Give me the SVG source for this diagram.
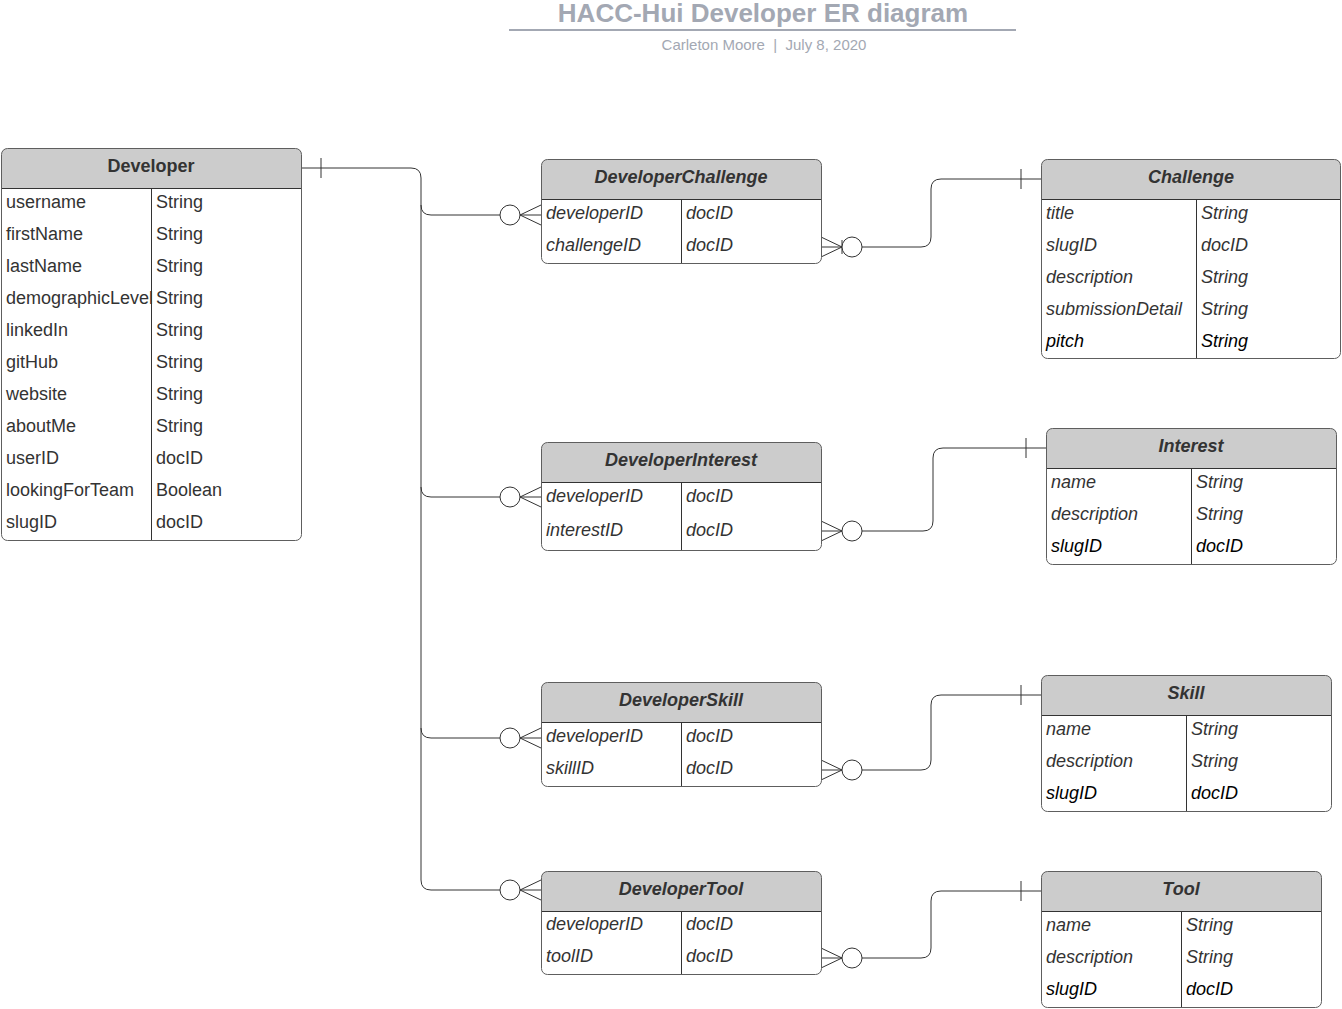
<svg xmlns="http://www.w3.org/2000/svg" width="1342" height="1009" viewBox="0 0 1342 1009">
<style>
text{font-family:"Liberation Sans",Arial,sans-serif;}
.title{font-size:26px;font-weight:bold;fill:#a3a8b3;text-anchor:middle;}
.sub{font-size:15px;fill:#a3a8b3;text-anchor:middle;}
.body{fill:#fff;stroke:none;}
.hdr{fill:#cccccc;stroke:none;}
.frame{fill:none;stroke:#5e5e5e;stroke-width:1;}
.sep{stroke:#333;stroke-width:1;}
.h{font-size:18px;font-weight:bold;fill:#333;text-anchor:middle;}
.hi{font-size:18px;font-weight:bold;font-style:italic;fill:#333;text-anchor:middle;}
.t{font-size:18px;fill:#333;}
.ti{font-size:18px;font-style:italic;fill:#333;}
.tk{font-size:18px;font-style:italic;fill:#000;}
.c{fill:none;stroke:#333;stroke-width:1;}
.o{fill:#fff;stroke:#333;stroke-width:1;}
</style>
<g id="title">
<text class="title" x="763" y="22">HACC-Hui Developer ER diagram</text>
<line x1="509" y1="30" x2="1016" y2="30" stroke="#a3a8b3" stroke-width="2"/>
<text class="sub" x="764" y="50" xml:space="preserve">Carleton Moore  |  July 8, 2020</text>
</g>
<g id="connectors">
<path class="c" d="M301,168 H411 Q421,168 421,178 V880 Q421,890 431,890 H500"/>
<path class="c" d="M321,158 V178"/>
<path class="c" d="M421,205 Q421,215 431,215 H500"/>
<path class="c" d="M421,487 Q421,497 431,497 H500"/>
<path class="c" d="M421,728 Q421,738 431,738 H500"/>
<path class="c" d="M541,205 L520,215 L541,225 M520,215 H541"/>
<path class="c" d="M541,487 L520,497 L541,507 M520,497 H541"/>
<path class="c" d="M541,728 L520,738 L541,748 M520,738 H541"/>
<path class="c" d="M541,880 L520,890 L541,900 M520,890 H541"/>
<circle class="o" cx="510" cy="215" r="10"/>
<circle class="o" cx="510" cy="497" r="10"/>
<circle class="o" cx="510" cy="738" r="10"/>
<circle class="o" cx="510" cy="890" r="10"/>
<path class="c" d="M821,237 L842,247 L821,257 M821,247 H842 M842,240 V254"/>
<circle class="o" cx="852" cy="247" r="10"/>
<path class="c" d="M862,247 H921 Q931,247 931,237 V189 Q931,179 941,179 H1041 M1021,169 V189"/>
<path class="c" d="M821,521 L842,531 L821,541 M821,531 H842"/>
<circle class="o" cx="852" cy="531" r="10"/>
<path class="c" d="M862,531 H923 Q933,531 933,521 V458 Q933,448 943,448 H1046 M1026,438 V458"/>
<path class="c" d="M821,760 L842,770 L821,780 M821,770 H842"/>
<circle class="o" cx="852" cy="770" r="10"/>
<path class="c" d="M862,770 H921 Q931,770 931,760 V705 Q931,695 941,695 H1041 M1021,685 V705"/>
<path class="c" d="M821,948 L842,958 L821,968 M821,958 H842"/>
<circle class="o" cx="852" cy="958" r="10"/>
<path class="c" d="M862,958 H921 Q931,958 931,948 V901 Q931,891 941,891 H1041 M1021,881 V901"/>
</g>
<g id="Developer">
<rect class="body" x="1.5" y="148.5" width="300" height="392" rx="6"/>
<path class="hdr" d="M1.5,188.5 V154.5 Q1.5,148.5 7.5,148.5 H295.5 Q301.5,148.5 301.5,154.5 V188.5 Z"/>
<line class="sep" x1="1.5" y1="188.5" x2="301.5" y2="188.5"/>
<line class="sep" x1="151.5" y1="188.5" x2="151.5" y2="540.5"/>
<rect class="frame" x="1.5" y="148.5" width="300" height="392" rx="6"/>
<text class="h" x="151" y="172">Developer</text>
<text class="t" x="6" y="208">username</text><text class="t" x="156" y="208">String</text>
<text class="t" x="6" y="240">firstName</text><text class="t" x="156" y="240">String</text>
<text class="t" x="6" y="272">lastName</text><text class="t" x="156" y="272">String</text>
<text class="t" x="6" y="304">demographicLevel</text><text class="t" x="156" y="304">String</text>
<text class="t" x="6" y="336">linkedIn</text><text class="t" x="156" y="336">String</text>
<text class="t" x="6" y="368">gitHub</text><text class="t" x="156" y="368">String</text>
<text class="t" x="6" y="400">website</text><text class="t" x="156" y="400">String</text>
<text class="t" x="6" y="432">aboutMe</text><text class="t" x="156" y="432">String</text>
<text class="t" x="6" y="464">userID</text><text class="t" x="156" y="464">docID</text>
<text class="t" x="6" y="496">lookingForTeam</text><text class="t" x="156" y="496">Boolean</text>
<text class="t" x="6" y="528">slugID</text><text class="t" x="156" y="528">docID</text>
</g>
<g id="DeveloperChallenge">
<rect class="body" x="541.5" y="159.5" width="280" height="104" rx="6"/>
<path class="hdr" d="M541.5,199.5 V165.5 Q541.5,159.5 547.5,159.5 H815.5 Q821.5,159.5 821.5,165.5 V199.5 Z"/>
<line class="sep" x1="541.5" y1="199.5" x2="821.5" y2="199.5"/>
<line class="sep" x1="681.5" y1="199.5" x2="681.5" y2="263.5"/>
<rect class="frame" x="541.5" y="159.5" width="280" height="104" rx="6"/>
<text class="hi" x="681" y="183">DeveloperChallenge</text>
<text class="ti" x="546" y="219">developerID</text><text class="ti" x="686" y="219">docID</text>
<text class="ti" x="546" y="251">challengeID</text><text class="ti" x="686" y="251">docID</text>
</g>
<g id="Challenge">
<rect class="body" x="1041.5" y="159.5" width="299" height="199" rx="6"/>
<path class="hdr" d="M1041.5,199.5 V165.5 Q1041.5,159.5 1047.5,159.5 H1334.5 Q1340.5,159.5 1340.5,165.5 V199.5 Z"/>
<line class="sep" x1="1041.5" y1="199.5" x2="1340.5" y2="199.5"/>
<line class="sep" x1="1196.5" y1="199.5" x2="1196.5" y2="358.5"/>
<rect class="frame" x="1041.5" y="159.5" width="299" height="199" rx="6"/>
<text class="hi" x="1191" y="183">Challenge</text>
<text class="ti" x="1046" y="219">title</text><text class="ti" x="1201" y="219">String</text>
<text class="ti" x="1046" y="251">slugID</text><text class="ti" x="1201" y="251">docID</text>
<text class="ti" x="1046" y="283">description</text><text class="ti" x="1201" y="283">String</text>
<text class="ti" x="1046" y="315">submissionDetail</text><text class="ti" x="1201" y="315">String</text>
<text class="tk" x="1046" y="347">pitch</text><text class="tk" x="1201" y="347">String</text>
</g>
<g id="DeveloperInterest">
<rect class="body" x="541.5" y="442.5" width="280" height="108" rx="6"/>
<path class="hdr" d="M541.5,482.5 V448.5 Q541.5,442.5 547.5,442.5 H815.5 Q821.5,442.5 821.5,448.5 V482.5 Z"/>
<line class="sep" x1="541.5" y1="482.5" x2="821.5" y2="482.5"/>
<line class="sep" x1="681.5" y1="482.5" x2="681.5" y2="550.5"/>
<rect class="frame" x="541.5" y="442.5" width="280" height="108" rx="6"/>
<text class="hi" x="681" y="466">DeveloperInterest</text>
<text class="ti" x="546" y="502">developerID</text><text class="ti" x="686" y="502">docID</text>
<text class="ti" x="546" y="536">interestID</text><text class="ti" x="686" y="536">docID</text>
</g>
<g id="Interest">
<rect class="body" x="1046.5" y="428.5" width="290" height="136" rx="6"/>
<path class="hdr" d="M1046.5,468.5 V434.5 Q1046.5,428.5 1052.5,428.5 H1330.5 Q1336.5,428.5 1336.5,434.5 V468.5 Z"/>
<line class="sep" x1="1046.5" y1="468.5" x2="1336.5" y2="468.5"/>
<line class="sep" x1="1191.5" y1="468.5" x2="1191.5" y2="564.5"/>
<rect class="frame" x="1046.5" y="428.5" width="290" height="136" rx="6"/>
<text class="hi" x="1191" y="452">Interest</text>
<text class="ti" x="1051" y="488">name</text><text class="ti" x="1196" y="488">String</text>
<text class="ti" x="1051" y="520">description</text><text class="ti" x="1196" y="520">String</text>
<text class="tk" x="1051" y="552">slugID</text><text class="tk" x="1196" y="552">docID</text>
</g>
<g id="DeveloperSkill">
<rect class="body" x="541.5" y="682.5" width="280" height="104" rx="6"/>
<path class="hdr" d="M541.5,722.5 V688.5 Q541.5,682.5 547.5,682.5 H815.5 Q821.5,682.5 821.5,688.5 V722.5 Z"/>
<line class="sep" x1="541.5" y1="722.5" x2="821.5" y2="722.5"/>
<line class="sep" x1="681.5" y1="722.5" x2="681.5" y2="786.5"/>
<rect class="frame" x="541.5" y="682.5" width="280" height="104" rx="6"/>
<text class="hi" x="681" y="706">DeveloperSkill</text>
<text class="ti" x="546" y="742">developerID</text><text class="ti" x="686" y="742">docID</text>
<text class="ti" x="546" y="774">skillID</text><text class="ti" x="686" y="774">docID</text>
</g>
<g id="Skill">
<rect class="body" x="1041.5" y="675.5" width="290" height="136" rx="6"/>
<path class="hdr" d="M1041.5,715.5 V681.5 Q1041.5,675.5 1047.5,675.5 H1325.5 Q1331.5,675.5 1331.5,681.5 V715.5 Z"/>
<line class="sep" x1="1041.5" y1="715.5" x2="1331.5" y2="715.5"/>
<line class="sep" x1="1186.5" y1="715.5" x2="1186.5" y2="811.5"/>
<rect class="frame" x="1041.5" y="675.5" width="290" height="136" rx="6"/>
<text class="hi" x="1186" y="699">Skill</text>
<text class="ti" x="1046" y="735">name</text><text class="ti" x="1191" y="735">String</text>
<text class="ti" x="1046" y="767">description</text><text class="ti" x="1191" y="767">String</text>
<text class="tk" x="1046" y="799">slugID</text><text class="tk" x="1191" y="799">docID</text>
</g>
<g id="DeveloperTool">
<rect class="body" x="541.5" y="871.5" width="280" height="103" rx="6"/>
<path class="hdr" d="M541.5,911.5 V877.5 Q541.5,871.5 547.5,871.5 H815.5 Q821.5,871.5 821.5,877.5 V911.5 Z"/>
<line class="sep" x1="541.5" y1="911.5" x2="821.5" y2="911.5"/>
<line class="sep" x1="681.5" y1="911.5" x2="681.5" y2="974.5"/>
<rect class="frame" x="541.5" y="871.5" width="280" height="103" rx="6"/>
<text class="hi" x="681" y="895">DeveloperTool</text>
<text class="ti" x="546" y="930">developerID</text><text class="ti" x="686" y="930">docID</text>
<text class="ti" x="546" y="962">toolID</text><text class="ti" x="686" y="962">docID</text>
</g>
<g id="Tool">
<rect class="body" x="1041.5" y="871.5" width="280" height="136" rx="6"/>
<path class="hdr" d="M1041.5,911.5 V877.5 Q1041.5,871.5 1047.5,871.5 H1315.5 Q1321.5,871.5 1321.5,877.5 V911.5 Z"/>
<line class="sep" x1="1041.5" y1="911.5" x2="1321.5" y2="911.5"/>
<line class="sep" x1="1181.5" y1="911.5" x2="1181.5" y2="1007.5"/>
<rect class="frame" x="1041.5" y="871.5" width="280" height="136" rx="6"/>
<text class="hi" x="1181" y="895">Tool</text>
<text class="ti" x="1046" y="931">name</text><text class="ti" x="1186" y="931">String</text>
<text class="ti" x="1046" y="963">description</text><text class="ti" x="1186" y="963">String</text>
<text class="tk" x="1046" y="995">slugID</text><text class="tk" x="1186" y="995">docID</text>
</g>
</svg>
